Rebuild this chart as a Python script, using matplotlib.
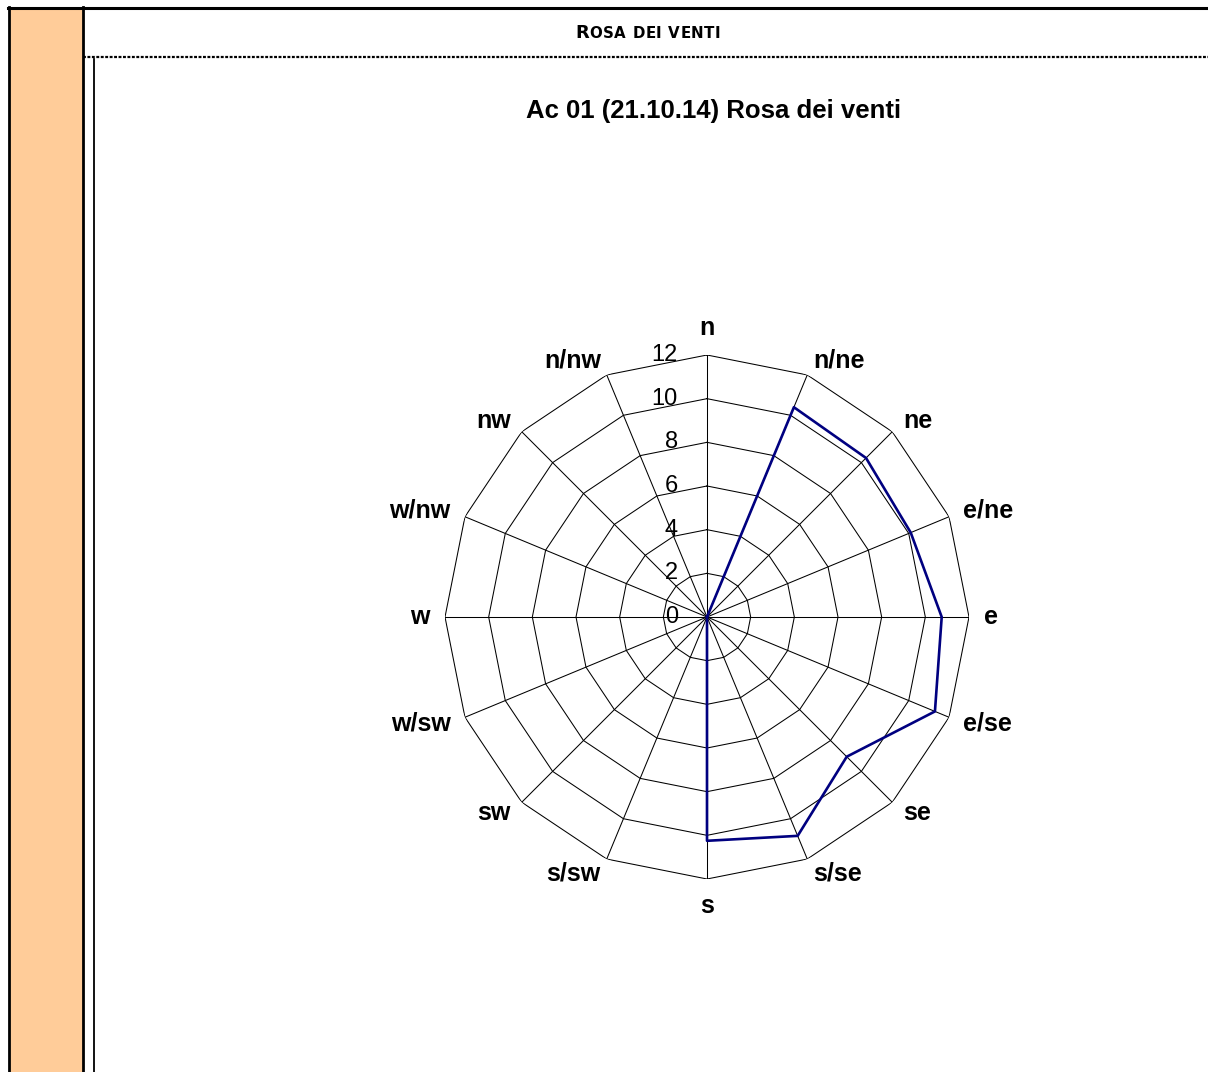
import numpy as np
import matplotlib
matplotlib.use("Agg")
import matplotlib.pyplot as plt
from matplotlib.lines import Line2D
from matplotlib.patches import Rectangle
from matplotlib.offsetbox import TextArea, HPacker, AnchoredOffsetbox

# --- data ---
directions = ["n", "n/ne", "ne", "e/ne", "e", "e/se", "se", "s/se",
              "s", "s/sw", "sw", "w/sw", "w", "w/nw", "nw", "n/nw"]
values = [0, 10.4, 10.3, 10.1, 10.75, 11.3, 9.05, 10.85,
          10.25, 0, 0, 0, 0, 0, 0, 0]
r_ticks = [0, 2, 4, 6, 8, 10, 12]
title = "Ac 01 (21.10.14) Rosa dei venti"
header = "ROSA DEI VENTI"

W, H = 1208, 1072
fig = plt.figure(figsize=(W / 100, H / 100), dpi=100)
fig.patch.set_facecolor("white")


def px(x, y):
    # pixel coords (top-left origin) -> figure fraction
    return x / W, 1 - y / H


# --- page frame ---
x0, y0 = px(9.5, 8)
fig.add_artist(Rectangle((x0, 0), 73 / W, y0, transform=fig.transFigure,
                         facecolor="#ffcc99", edgecolor="none", zorder=0))
fig.add_artist(Line2D([px(8, 0)[0], 1], [px(0, 7.5)[1]] * 2, color="black", lw=2.2))
fig.add_artist(Line2D([px(9, 0)[0]] * 2, [0, px(0, 7)[1]], color="black", lw=2.0))
fig.add_artist(Line2D([px(82.7, 0)[0]] * 2, [0, px(0, 7)[1]], color="black", lw=2.0))
fig.add_artist(Line2D([px(83, 0)[0], 1], [px(0, 57)[1]] * 2, color="black",
                      lw=1.6, linestyle=(0, (1.3, 0.7))))
fig.add_artist(Line2D([px(93.5, 0)[0]] * 2, [0, px(0, 59)[1]], color="black", lw=1.3))

# header in small caps
chars = []
for i, ch in enumerate(header):
    size = 13 if i == 0 else 10.8
    chars.append(TextArea(ch, textprops=dict(fontsize=size, fontweight="bold",
                                             family="DejaVu Sans")))
hdr = HPacker(children=chars, align="baseline", pad=0, sep=0.4)
fig.add_artist(AnchoredOffsetbox(loc="center", child=hdr, frameon=False,
                                 bbox_to_anchor=px(648, 33), bbox_transform=fig.transFigure,
                                 borderpad=0, pad=0))

fig.text(*px(714, 111), title, ha="center", va="center", fontsize=18.5,
         fontweight="bold", family="Liberation Sans")

# --- radar ---
cx, cy, R = 707, 617, 262
ax = fig.add_axes([(cx - R) / W, 1 - (cy + R) / H, 2 * R / W, 2 * R / H], projection="polar")
ax.set_theta_zero_location("N")
ax.set_theta_direction(-1)
ax.set_ylim(0, 12)
ax.grid(False)
ax.set_xticks([])
ax.set_yticks([])
ax.spines["polar"].set_visible(False)
ax.patch.set_alpha(0)

theta = np.deg2rad(np.arange(len(directions)) * 360 / len(directions))
theta_c = np.append(theta, theta[0])

for lvl in r_ticks[1:]:
    ax.plot(theta_c, [lvl] * len(theta_c), color="black", lw=0.75, zorder=1)
for t in theta:
    ax.plot([t, t], [0, 12], color="black", lw=0.75, zorder=1)

vals_c = np.append(values, values[0])
ax.plot(theta_c, vals_c, color="#000080", lw=1.9, zorder=3)

for lvl in r_ticks:
    ax.annotate(str(lvl), xy=(0, lvl), xytext=(-21, 0), textcoords="offset points",
                ha="right", va="center", fontsize=17, family="Liberation Sans")

for t, name in zip(theta, directions):
    s, c = np.sin(t), np.cos(t)
    ha = "left" if s > 0.01 else ("right" if s < -0.01 else "center")
    va = "bottom" if c > 0.99 else ("top" if c < -0.99 else "center")
    ax.text(t, 12.7, name, ha=ha, va=va, fontsize=18, fontweight="bold",
            family="Liberation Sans")

fig.savefig("out.png", dpi=100)
